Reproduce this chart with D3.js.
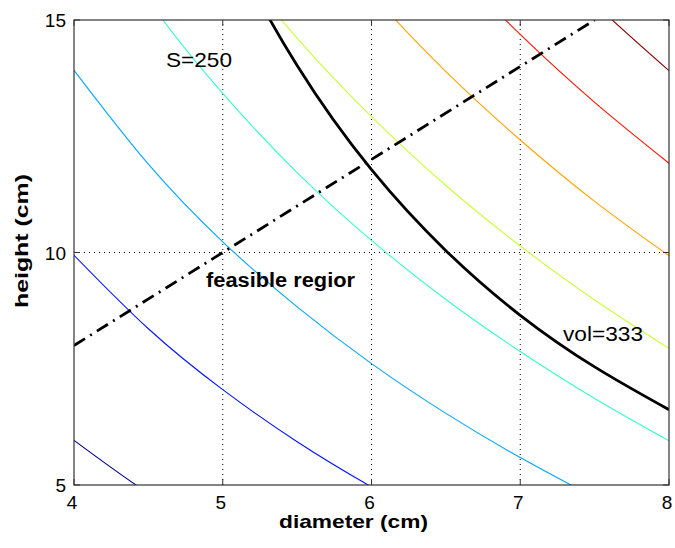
<!DOCTYPE html>
<html>
<head>
<meta charset="utf-8">
<script src="https://cdn.jsdelivr.net/npm/d3@7"></script>
<style>
  body { margin: 0; background: #fff; }
  text { font-family: "Liberation Sans", Arial, sans-serif; fill: #000; }
</style>
</head>
<body>
<div id="chart"></div>
<script>
// diameters (cm) where each curve was read
const diameters = [4, 4.5, 5, 5.5, 6, 6.5, 7, 7.5, 8];

// surface area contours, height (cm) at each diameter
const areaLevels = [100, 150, 200, 250, 300, 350, 400, 450];
const areaHeights = [
  [5.96, 4.82, 3.87, 3.04, 2.31, 1.65, 1.05, 0.49, -0.02],
  [9.94, 8.36, 7.05, 5.93, 4.96, 4.10, 3.32, 2.62, 1.97],
  [13.92, 11.90, 10.23, 8.83, 7.61, 6.54, 5.59, 4.74, 3.96],
  [17.89, 15.43, 13.42, 11.72, 10.26, 8.99, 7.87, 6.86, 5.95],
  [21.87, 18.97, 16.60, 14.61, 12.92, 11.44, 10.14, 8.98, 7.94],
  [25.85, 22.51, 19.78, 17.51, 15.57, 13.89, 12.42, 11.10, 9.93],
  [29.83, 26.04, 22.96, 20.40, 18.22, 16.34, 14.69, 13.23, 11.92],
  [33.81, 29.58, 26.15, 23.29, 20.87, 18.79, 16.96, 15.35, 13.91]
];
const areaColors = ["#00008f", "#0012ff", "#00a4ff", "#36ffc9",
                    "#c8ff36", "#ffa400", "#ff1200", "#800000"];

// volume = 333 constraint
const volHeights = [26.50, 20.94, 16.96, 14.02, 11.78, 10.04, 8.65, 7.54, 6.62];

// h = 2d boundary
const boundD = [4, 7.5];
const boundH = [8, 15];

const xTicks = [4, 5, 6, 7, 8];
const yTicks = [5, 10, 15];

const width = 675, height = 548;
const margin = {left: 74, right: 6, top: 20, bottom: 63};

const svg = d3.select("#chart").append("svg")
  .attr("width", width)
  .attr("height", height);

const x = d3.scaleLinear().domain([4, 8]).range([margin.left, width - margin.right]);
const y = d3.scaleLinear().domain([5, 15]).range([height - margin.bottom, margin.top]);

svg.append("clipPath").attr("id", "plotclip")
  .append("rect")
  .attr("x", x(4)).attr("y", y(15))
  .attr("width", x(8) - x(4)).attr("height", y(5) - y(15));

// dotted grid
const grid = svg.append("g");
grid.selectAll(".gx").data([5, 6, 7]).join("line")
  .attr("x1", d => x(d)).attr("x2", d => x(d))
  .attr("y1", y(5)).attr("y2", y(15))
  .attr("stroke", "#000").attr("stroke-width", 1).attr("stroke-dasharray", "1,4");
grid.selectAll(".gy").data([10]).join("line")
  .attr("x1", x(4)).attr("x2", x(8))
  .attr("y1", d => y(d)).attr("y2", d => y(d))
  .attr("stroke", "#000").attr("stroke-width", 1).attr("stroke-dasharray", "1,4");

const plot = svg.append("g").attr("clip-path", "url(#plotclip)");

const line = d3.line()
  .x((d, i) => x(diameters[i]))
  .y(d => y(d))
  .curve(d3.curveNatural);

plot.selectAll(".contour").data(areaHeights).join("path")
  .attr("d", line)
  .attr("fill", "none")
  .attr("stroke", (d, i) => areaColors[i])
  .attr("stroke-width", 1.1);

plot.append("path")
  .attr("d", line(volHeights))
  .attr("fill", "none")
  .attr("stroke", "#000")
  .attr("stroke-width", 2.8);

plot.append("path")
  .attr("d", d3.line().x(d => x(d[0])).y(d => y(d[1]))(boundD.map((d, i) => [d, boundH[i]])))
  .attr("fill", "none")
  .attr("stroke", "#000")
  .attr("stroke-width", 2.8)
  .attr("stroke-dasharray", "13,6,2,6");

// frame and inward ticks
svg.append("rect")
  .attr("x", x(4)).attr("y", y(15))
  .attr("width", x(8) - x(4)).attr("height", y(5) - y(15))
  .attr("fill", "none").attr("stroke", "#333").attr("stroke-width", 1.2);

const tk = 6;
svg.selectAll(".tb").data(xTicks).join("line")
  .attr("x1", d => x(d)).attr("x2", d => x(d))
  .attr("y1", y(5)).attr("y2", y(5) - tk)
  .attr("stroke", "#333");
svg.selectAll(".tt").data(xTicks).join("line")
  .attr("x1", d => x(d)).attr("x2", d => x(d))
  .attr("y1", y(15)).attr("y2", y(15) + tk)
  .attr("stroke", "#333");
svg.selectAll(".tl").data(yTicks).join("line")
  .attr("x1", x(4)).attr("x2", x(4) + tk)
  .attr("y1", d => y(d)).attr("y2", d => y(d))
  .attr("stroke", "#333");
svg.selectAll(".tr").data(yTicks).join("line")
  .attr("x1", x(8)).attr("x2", x(8) - tk)
  .attr("y1", d => y(d)).attr("y2", d => y(d))
  .attr("stroke", "#333");

// tick labels
svg.selectAll(".xl").data(xTicks).join("text")
  .attr("x", d => x(d) - 2).attr("y", y(5) + 24)
  .attr("text-anchor", "middle")
  .style("font-size", "19px")
  .text(d => d);
svg.selectAll(".yl").data(yTicks).join("text")
  .attr("x", x(4) - 8).attr("y", d => y(d) + 7)
  .attr("text-anchor", "end")
  .style("font-size", "19px")
  .text(d => d);

// axis titles
svg.append("text")
  .attr("x", 279).attr("y", 528)
  .attr("textLength", 149).attr("lengthAdjust", "spacingAndGlyphs")
  .style("font-size", "19px").style("font-weight", "bold")
  .text("diameter (cm)");
svg.append("text")
  .attr("transform", "translate(28,308) rotate(-90)")
  .attr("textLength", 134).attr("lengthAdjust", "spacingAndGlyphs")
  .style("font-size", "19px").style("font-weight", "bold")
  .text("height (cm)");

// annotations
svg.append("text").attr("x", 166).attr("y", 67)
  .attr("textLength", 66).attr("lengthAdjust", "spacingAndGlyphs")
  .style("font-size", "21px").text("S=" + areaLevels[3]);
svg.append("text").attr("x", 206).attr("y", 287)
  .attr("textLength", 149).attr("lengthAdjust", "spacingAndGlyphs")
  .style("font-size", "20px").style("font-weight", "bold").text("feasible regior");
svg.append("text").attr("x", 563).attr("y", 341)
  .attr("textLength", 80).attr("lengthAdjust", "spacingAndGlyphs")
  .style("font-size", "21px").text("vol=333");
</script>
</body>
</html>
